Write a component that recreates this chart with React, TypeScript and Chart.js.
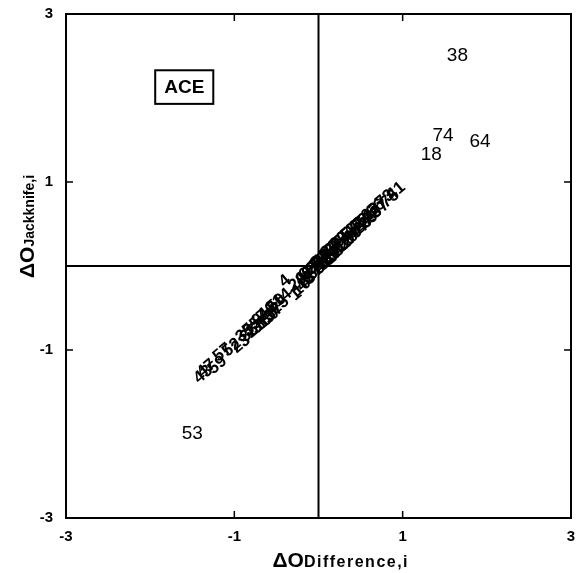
import React, { useEffect, useRef } from "react";
import { Chart, registerables } from "chart.js";

Chart.register(...registerables);

// ---------- data ----------
const tickValues = [-3, -1, 1, 3];
const axisMin = -3;
const axisMax = 3;

const outlierLabels = ["38", "74", "18", "64", "53"];
const outlierX = [1.65, 1.48, 1.34, 1.92, -1.5];
const outlierY = [2.5, 1.55, 1.33, 1.48, -2.0];

const clusterLabels = [
  "43", "47", "59", "57", "52", "23", "33", "35", "55", "21",
  "9", "31", "7", "15", "46", "60", "2", "37", "50", "25",
  "14", "4", "1", "29", "10", "40", "48", "62", "3", "17",
  "27", "56", "68", "11", "5", "34", "70", "19", "45", "8",
  "61", "36", "13", "39", "49", "22", "58", "6", "71", "30",
  "42", "65", "12", "24", "16", "54", "69", "32", "44", "72",
  "20", "51", "26", "63", "28", "66", "67", "73", "75", "41",
];
const clusterX = [
  -1.37, -1.33, -1.2, -1.14, -1.03, -0.92, -0.87, -0.82, -0.79, -0.75,
  -0.72, -0.69, -0.66, -0.63, -0.61, -0.58, -0.55, -0.53, -0.5, -0.46,
  -0.43, -0.4, -0.27, -0.24, -0.2, -0.17, -0.15, -0.12, -0.1, -0.08,
  -0.06, -0.04, -0.03, -0.01, 0.01, 0.02, 0.04, 0.05, 0.07, 0.08,
  0.1, 0.11, 0.13, 0.14, 0.16, 0.18, 0.19, 0.21, 0.23, 0.25,
  0.27, 0.29, 0.31, 0.33, 0.36, 0.38, 0.41, 0.44, 0.47, 0.5,
  0.53, 0.56, 0.59, 0.62, 0.64, 0.68, 0.73, 0.79, 0.85, 0.92,
];
const clusterY = [
  -1.29, -1.22, -1.18, -1.03, -0.97, -0.93, -0.8, -0.8, -0.72, -0.75,
  -0.64, -0.7, -0.59, -0.65, -0.54, -0.61, -0.49, -0.55, -0.44, -0.47,
  -0.38, -0.18, -0.34, -0.19, -0.25, -0.12, -0.19, -0.06, -0.14, -0.03,
  -0.09, 0.0, -0.06, 0.04, -0.03, 0.08, 0.0, 0.1, 0.03, 0.13,
  0.05, 0.16, 0.09, 0.2, 0.11, 0.23, 0.14, 0.26, 0.19, 0.3,
  0.22, 0.33, 0.26, 0.37, 0.31, 0.42, 0.36, 0.47, 0.42, 0.52,
  0.48, 0.57, 0.54, 0.64, 0.6, 0.69, 0.68, 0.8, 0.8, 0.89,
];

const boxLabel = "ACE";
const boxX = [-1.94, -1.25];
const boxY = [1.93, 2.33];

const xTitleMain = "ΔO";
const xTitleSub = "Difference,i";
const yTitleMain = "ΔO";
const yTitleSub = "Jackknife,i";

const FONT = '"Liberation Sans", Arial, Helvetica, sans-serif';

const overlayPlugin = {
  id: "overlay",
  afterDatasetsDraw(chart: any) {
    const ctx = chart.ctx;
    ctx.save();
    ctx.fillStyle = "#000";
    ctx.textAlign = "center";
    ctx.textBaseline = "middle";
    // outlier labels, upright
    ctx.font = `19px ${FONT}`;
    const m0 = chart.getDatasetMeta(0);
    m0.data.forEach((el: any, i: number) => {
      ctx.fillText(outlierLabels[i], el.x, el.y);
    });
    // cluster labels, rotated along the band
    ctx.font = `bold 17px ${FONT}`;
    const m1 = chart.getDatasetMeta(1);
    m1.data.forEach((el: any, i: number) => {
      ctx.save();
      ctx.translate(el.x, el.y);
      ctx.rotate((-40 * Math.PI) / 180);
      ctx.fillText(clusterLabels[i], 0, 0);
      ctx.restore();
    });
    ctx.restore();
  },
  afterDraw(chart: any) {
    const ctx = chart.ctx;
    const { left, right, top, bottom } = chart.chartArea;
    const xs = chart.scales.x;
    const ys = chart.scales.y;
    ctx.save();
    ctx.strokeStyle = "#000";
    ctx.fillStyle = "#000";
    // frame
    ctx.lineWidth = 2;
    ctx.strokeRect(left, top, right - left, bottom - top);
    // crosshair at zero
    const x0 = xs.getPixelForValue(0);
    const y0 = ys.getPixelForValue(0);
    ctx.beginPath();
    ctx.moveTo(x0, top);
    ctx.lineTo(x0, bottom);
    ctx.moveTo(left, y0);
    ctx.lineTo(right, y0);
    ctx.stroke();
    // inner tick marks
    ctx.lineWidth = 1.5;
    const tl = 7;
    [-1, 1].forEach((v) => {
      const px = xs.getPixelForValue(v);
      const py = ys.getPixelForValue(v);
      ctx.beginPath();
      ctx.moveTo(px, bottom);
      ctx.lineTo(px, bottom - tl);
      ctx.moveTo(px, top);
      ctx.lineTo(px, top + tl);
      ctx.moveTo(left, py);
      ctx.lineTo(left + tl, py);
      ctx.moveTo(right, py);
      ctx.lineTo(right - tl, py);
      ctx.stroke();
    });
    // tick labels
    ctx.font = `bold 15px ${FONT}`;
    ctx.textAlign = "center";
    ctx.textBaseline = "top";
    tickValues.forEach((v) => {
      ctx.fillText(String(v), xs.getPixelForValue(v), bottom + 11);
    });
    ctx.textAlign = "right";
    ctx.textBaseline = "middle";
    tickValues.forEach((v) => {
      ctx.fillText(String(v), left - 13, ys.getPixelForValue(v));
    });

    // ACE box
    const bx1 = xs.getPixelForValue(boxX[0]);
    const bx2 = xs.getPixelForValue(boxX[1]);
    const by1 = ys.getPixelForValue(boxY[1]);
    const by2 = ys.getPixelForValue(boxY[0]);
    ctx.lineWidth = 2;
    ctx.strokeRect(bx1, by1, bx2 - bx1, by2 - by1);
    ctx.font = `bold 19px ${FONT}`;
    ctx.textAlign = "center";
    ctx.textBaseline = "middle";
    ctx.fillText(boxLabel, (bx1 + bx2) / 2, (by1 + by2) / 2 + 1);

    // x axis title
    ctx.textAlign = "left";
    ctx.textBaseline = "alphabetic";
    const cx = (left + right) / 2;
    let tx = cx - 46;
    const tyBase = bottom + 49;
    ctx.font = `bold 21px ${FONT}`;
    ctx.fillText(xTitleMain, tx, tyBase);
    tx += ctx.measureText(xTitleMain).width;
    ctx.font = `bold 16px ${FONT}`;
    (ctx as any).letterSpacing = "1.5px";
    ctx.fillText(xTitleSub, tx, tyBase);
    (ctx as any).letterSpacing = "0px";

    // y axis title (rotated)
    ctx.save();
    ctx.translate(left - 32, (top + bottom) / 2 + 12);
    ctx.rotate(-Math.PI / 2);
    ctx.font = `bold 21px ${FONT}`;
    ctx.fillText(yTitleMain, 0, 0);
    const w = ctx.measureText(yTitleMain).width;
    ctx.font = `bold 14px ${FONT}`;
    ctx.fillText(yTitleSub, w, 0);
    ctx.restore();

    ctx.restore();
  },
};

export default function App() {
  const ref = useRef<HTMLCanvasElement | null>(null);
  useEffect(() => {
    if (!ref.current) return;
    const chart = new Chart(ref.current, {
      type: "scatter",
      data: {
        datasets: [
          {
            data: outlierX.map((x, i) => ({ x, y: outlierY[i] })),
            pointRadius: 0,
            pointHoverRadius: 0,
          },
          {
            data: clusterX.map((x, i) => ({ x, y: clusterY[i] })),
            pointRadius: 0,
            pointHoverRadius: 0,
          },
        ],
      },
      options: {
        animation: false,
        responsive: true,
        maintainAspectRatio: false,
        layout: { padding: { top: 14, right: 6, left: 0, bottom: 0 } },
        plugins: {
          legend: { display: false },
          tooltip: { enabled: false },
        },
        events: [],
        scales: {
          x: {
            type: "linear",
            min: axisMin,
            max: axisMax,
            grid: { display: false, drawTicks: false },
            border: { display: false },
            ticks: { display: false, stepSize: 1 },
            afterFit: (s: any) => {
              s.height = 55;
            },
          },
          y: {
            type: "linear",
            min: axisMin,
            max: axisMax,
            grid: { display: false, drawTicks: false },
            border: { display: false },
            ticks: { display: false, stepSize: 1 },
            afterFit: (s: any) => {
              s.width = 66;
            },
          },
        },
      },
      plugins: [overlayPlugin],
    });
    return () => chart.destroy();
  }, []);
  return (
    <div
      style={{
        position: "fixed",
        left: 0,
        top: 0,
        width: 577,
        height: 573,
        background: "#fff",
      }}
    >
      <canvas ref={ref} />
    </div>
  );
}
